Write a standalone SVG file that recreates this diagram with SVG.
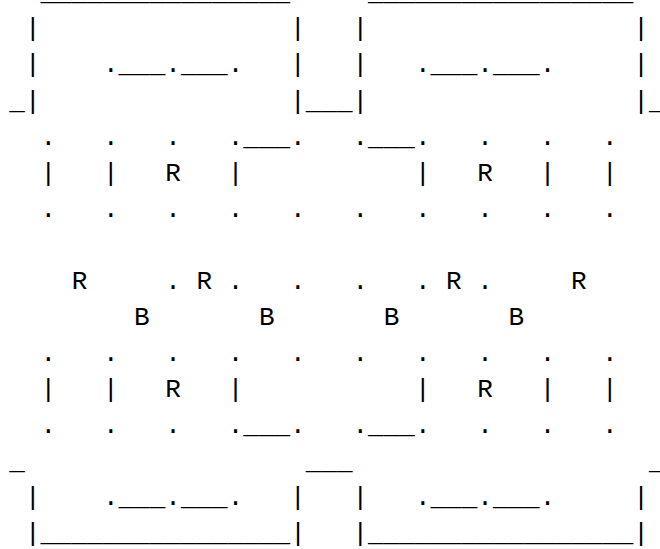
<svg xmlns="http://www.w3.org/2000/svg" width="660" height="549" viewBox="0 0 660 549">
<style>
text{font-family:"Liberation Mono","Courier New",monospace;font-size:26px;fill:#000;white-space:pre}
</style>
<rect width="660" height="549" fill="#fff"/>
<g id="box-top-left">
<text x="40.5" y="0.3">________________</text>
<text x="24.9" y="36.4">|</text><text x="290.1" y="36.4">|</text>
<text x="24.9" y="72.4">|</text><text x="102.9" y="72.4">.___.___.</text><text x="290.1" y="72.4">|</text>
<text x="9.3" y="108.5">_|</text>
</g>
<g id="box-top-right">
<text x="368.1" y="0.3">_________________</text>
<text x="352.5" y="36.4">|</text><text x="633.3" y="36.4">|</text>
<text x="352.5" y="72.4">|</text><text x="414.9" y="72.4">.___.___.</text><text x="633.3" y="72.4">|</text>
<text x="633.3" y="108.5">|_</text>
</g>
<g id="connectors">
<text x="290.1" y="108.5">|___|</text>
<text x="305.7" y="469.2">___</text>
</g>
<g id="grid-top">
<text x="40.5" y="144.6">.</text><text x="102.9" y="144.6">.</text><text x="165.3" y="144.6">.</text><text x="227.7" y="144.6">.___.</text><text x="352.5" y="144.6">.___.</text><text x="477.3" y="144.6">.</text><text x="539.7" y="144.6">.</text><text x="602.1" y="144.6">.</text>
<text x="40.5" y="180.7">|</text><text x="102.9" y="180.7">|</text><text x="165.3" y="180.7">R</text><text x="227.7" y="180.7">|</text><text x="414.9" y="180.7">|</text><text x="477.3" y="180.7">R</text><text x="539.7" y="180.7">|</text><text x="602.1" y="180.7">|</text>
<text x="40.5" y="216.7">.</text><text x="102.9" y="216.7">.</text><text x="165.3" y="216.7">.</text><text x="227.7" y="216.7">.</text><text x="290.1" y="216.7">.</text><text x="352.5" y="216.7">.</text><text x="414.9" y="216.7">.</text><text x="477.3" y="216.7">.</text><text x="539.7" y="216.7">.</text><text x="602.1" y="216.7">.</text>
</g>
<g id="middle-labels">
<text x="71.7" y="288.9">R</text><text x="165.3" y="288.9">.</text><text x="196.5" y="288.9">R</text><text x="227.7" y="288.9">.</text><text x="290.1" y="288.9">.</text><text x="352.5" y="288.9">.</text><text x="414.9" y="288.9">.</text><text x="446.1" y="288.9">R</text><text x="477.3" y="288.9">.</text><text x="570.9" y="288.9">R</text>
<text x="134.1" y="324.9">B</text><text x="258.9" y="324.9">B</text><text x="383.7" y="324.9">B</text><text x="508.5" y="324.9">B</text>
</g>
<g id="grid-bottom">
<text x="40.5" y="361">.</text><text x="102.9" y="361">.</text><text x="165.3" y="361">.</text><text x="227.7" y="361">.</text><text x="290.1" y="361">.</text><text x="352.5" y="361">.</text><text x="414.9" y="361">.</text><text x="477.3" y="361">.</text><text x="539.7" y="361">.</text><text x="602.1" y="361">.</text>
<text x="40.5" y="397.1">|</text><text x="102.9" y="397.1">|</text><text x="165.3" y="397.1">R</text><text x="227.7" y="397.1">|</text><text x="414.9" y="397.1">|</text><text x="477.3" y="397.1">R</text><text x="539.7" y="397.1">|</text><text x="602.1" y="397.1">|</text>
<text x="40.5" y="433.1">.</text><text x="102.9" y="433.1">.</text><text x="165.3" y="433.1">.</text><text x="227.7" y="433.1">.___.</text><text x="352.5" y="433.1">.___.</text><text x="477.3" y="433.1">.</text><text x="539.7" y="433.1">.</text><text x="602.1" y="433.1">.</text>
</g>
<g id="box-bottom-left">
<text x="9.3" y="469.2">_</text>
<text x="24.9" y="505.3">|</text><text x="102.9" y="505.3">.___.___.</text><text x="290.1" y="505.3">|</text>
<text x="24.9" y="541.4">|________________|</text>
</g>
<g id="box-bottom-right">
<text x="648.9" y="469.2">_</text>
<text x="352.5" y="505.3">|</text><text x="414.9" y="505.3">.___.___.</text><text x="633.3" y="505.3">|</text>
<text x="352.5" y="541.4">|_________________|</text>
</g>
</svg>
